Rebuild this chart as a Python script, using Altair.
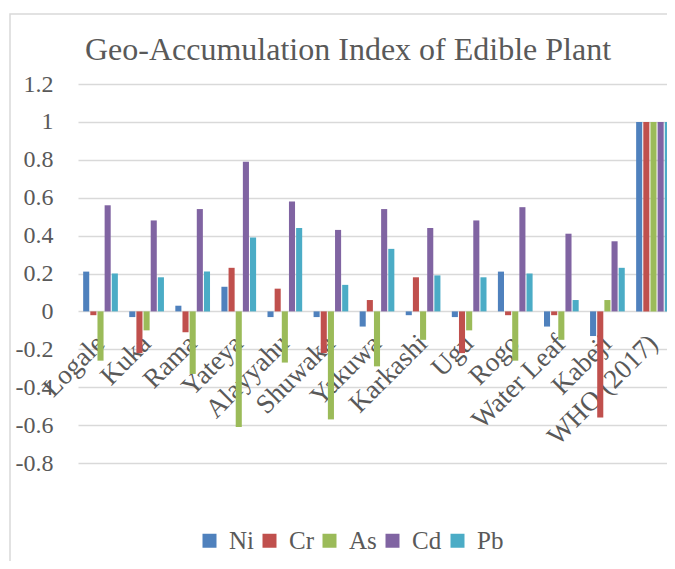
import altair as alt
import pandas as pd

categories = ["Logale", "Kuka", "Rama", "Yateya", "Alayyahu", "Shuwaka", "Yakuwa",
              "Karkashi", "Ugu", "Rogo", "Water Leaf", "Kabeji", "WHO (2017)"]
series = ["Ni", "Cr", "As", "Cd", "Pb"]
ni = [0.21, -0.03, 0.03, 0.13, -0.03, -0.03, -0.08, -0.02, -0.03, 0.21, -0.08, -0.13, 1.0]
cr = [-0.02, -0.22, -0.11, 0.23, 0.12, -0.22, 0.06, 0.18, -0.22, -0.02, -0.02, -0.56, 1.0]
as_ = [-0.26, -0.10, -0.33, -0.61, -0.27, -0.57, -0.29, -0.15, -0.10, -0.26, -0.15, 0.06, 1.0]
cd = [0.56, 0.48, 0.54, 0.79, 0.58, 0.43, 0.54, 0.44, 0.48, 0.55, 0.41, 0.37, 1.0]
pb = [0.20, 0.18, 0.21, 0.39, 0.44, 0.14, 0.33, 0.19, 0.18, 0.20, 0.06, 0.23, 1.0]
colors = ["#4F81BD", "#C0504D", "#9BBB59", "#8064A2", "#4BACC6"]
y_ticks = [-0.8, -0.6, -0.4, -0.2, 0.0, 0.2, 0.4, 0.6, 0.8, 1.0, 1.2]
title_text = "Geo-Accumulation Index of Edible Plant"

rows = []
for s, vals in zip(series, [ni, cr, as_, cd, pb]):
    for c, v in zip(categories, vals):
        rows.append({"Site": c, "Metal": s, "Value": v})
df = pd.DataFrame(rows)

W, H = 598, 379
FONT = "Liberation Serif"
GRAY = "#595959"

bars = alt.Chart(df).mark_bar().encode(
    x=alt.X("Site:N", sort=categories,
            scale=alt.Scale(paddingInner=0.247, paddingOuter=0.112),
            axis=alt.Axis(title=None, labelAngle=-45, labelAlign="right", labelBaseline="middle",
                          labelFont=FONT, labelFontSize=27, labelColor=GRAY,
                          labelPadding=28, ticks=False, tickSize=0, domain=False, grid=False,
                          labelOverlap=False, labelLimit=400, offset=-152)),
    xOffset=alt.XOffset("Metal:N", sort=series, scale=alt.Scale(paddingInner=0.15)),
    y=alt.Y("Value:Q", scale=alt.Scale(domain=[-0.8, 1.2], nice=False),
            axis=alt.Axis(title=None, values=y_ticks, labelExpr="toString(datum.value)",
                          labelFont=FONT, labelFontSize=24, labelColor=GRAY,
                          labelPadding=25, ticks=False, tickSize=0, domain=False,
                          grid=True, gridColor="#d9d9d9", gridWidth=1.5)),
    color=alt.Color("Metal:N", sort=series, scale=alt.Scale(domain=series, range=colors),
                    legend=alt.Legend(title=None, orient="none", direction="horizontal",
                                      legendX=119, legendY=444, symbolType="square",
                                      symbolSize=196, symbolStrokeWidth=0, labelOffset=7,
                                      columnPadding=3, labelFont=FONT, labelFontSize=25,
                                      labelColor=GRAY)),
)

border = alt.Chart(pd.DataFrame({"k": [0]})).mark_rect(
    fill=None, stroke="#d9d9d9", strokeWidth=1.5, clip=False
).encode(x=alt.value(-68), x2=alt.value(W + 40), y=alt.value(-70), y2=alt.value(H + 140))

title = alt.Chart(pd.DataFrame({"t": [title_text]})).mark_text(
    font=FONT, fontSize=32, color=GRAY, align="center", baseline="alphabetic"
).encode(text="t:N", x=alt.value(270), y=alt.value(-24))

chart = alt.layer(border, bars, title).properties(
    width=W, height=H,
    autosize=alt.AutoSizeParams(type="none"),
    padding={"left": 70, "top": 76, "right": -9, "bottom": 98},
).configure_view(stroke=None)

chart.save("out.html", embed_options={"renderer": "svg", "actions": False})
